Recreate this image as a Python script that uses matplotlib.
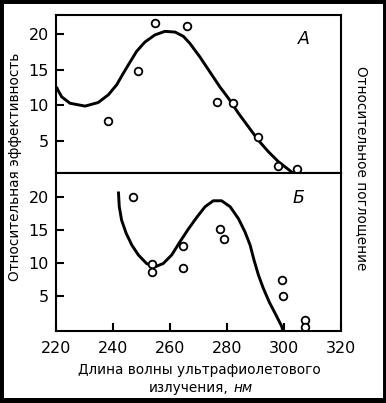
import matplotlib
matplotlib.use("Agg")
import matplotlib.pyplot as plt
from matplotlib.patches import Rectangle

plt.rcParams['font.family'] = ['DejaVu Sans']

# panel A: measured points and drawn curve
a_wl = [238.4, 248.7, 254.9, 265.9, 276.6, 282.2, 291.0, 297.8, 304.4]
a_eff = [7.8, 14.8, 21.6, 21.1, 10.5, 10.4, 5.5, 1.5, 1.05]
a_curve_wl = [220.2, 220.6, 222.0, 224.9, 230.2, 234.8, 238.4, 241.3, 243.6,
              246.0, 248.3, 251.2, 254.7, 258.2, 261.8, 264.7, 267.0, 270.5,
              274.0, 277.5, 280.5, 284.0, 287.5, 291.0, 294.5, 298.0, 300.9,
              303.3]
a_curve_abs = [12.6, 12.2, 11.2, 10.3, 9.9, 10.4, 11.5, 12.9, 14.5,
               16.1, 17.6, 18.9, 19.9, 20.4, 20.3, 19.7, 18.7, 16.8,
               14.7, 12.6, 11.0, 8.9, 7.0, 5.1, 3.5, 2.1, 1.2,
               0.45]

# panel B
b_wl = [247.1, 253.6, 253.6, 264.7, 264.7, 277.5, 278.9, 299.2, 299.8, 307.4, 307.4]
b_eff = [20.0, 9.9, 8.7, 12.6, 9.3, 15.1, 13.6, 7.4, 5.0, 1.3, 0.3]
b_curve_wl = [241.9, 242.2, 243.0, 244.6, 246.6, 248.9, 251.8, 254.7, 257.6,
              260.6, 263.5, 266.4, 269.4, 272.3, 275.2, 278.1, 281.1, 284.0,
              286.3, 288.1, 289.5, 291.0, 292.7, 294.8, 297.2, 299.2, 299.6]
b_curve_abs = [20.8, 18.5, 16.5, 14.5, 12.7, 11.2, 9.9, 9.4, 9.9,
               11.2, 13.2, 15.1, 16.9, 18.5, 19.4, 19.4, 18.5, 16.7,
               14.7, 12.7, 10.4, 8.2, 6.2, 4.1, 2.1, 0.4, -0.3]

x_ticks = [220, 240, 260, 280, 300, 320]
y_ticks = [5, 10, 15, 20]

W, H = 386, 403
fig = plt.figure(figsize=(W / 100, H / 100), dpi=100)
fig.patch.set_facecolor('white')

def fx(px):
    return px / W

def fy(py):
    return 1 - py / H

left, right = 56, 341
ax_a = fig.add_axes([fx(left), fy(173), fx(right - left), (173 - 15) / H])
ax_b = fig.add_axes([fx(left), fy(331), fx(right - left), (331 - 173) / H])

for ax in (ax_a, ax_b):
    for s in ax.spines.values():
        s.set_linewidth(1.5)
    ax.set_xlim(220, 320)
    ax.set_yticks(y_ticks)
    ax.tick_params(axis='y', direction='in', length=6, width=1.5, pad=5,
                   labelsize=11.5)

ax_a.set_ylim(0.5, 22.7)
ax_b.set_ylim(-0.3, 23.6)

ax_a.plot(a_curve_wl, a_curve_abs, color='black', lw=2.1,
          solid_joinstyle='round', solid_capstyle='butt')
ax_a.plot(a_wl, a_eff, 'o', ms=5.5, mfc='white', mec='black', mew=1.3)
ax_a.set_xticks([])
ax_a.text(307, 19.3, 'А', style='italic', fontsize=12.5, ha='center', va='center')

ax_b.plot(b_curve_wl, b_curve_abs, color='black', lw=2.1,
          solid_joinstyle='round', solid_capstyle='butt')
ax_b.plot(b_wl, b_eff, 'o', ms=5.5, mfc='white', mec='black', mew=1.3)
ax_b.set_xticks(x_ticks)
ax_b.tick_params(axis='x', direction='in', length=6, width=1.5, pad=7,
                 labelsize=11.5)
ax_b.text(305, 19.8, 'Б', style='italic', fontsize=12.5, ha='center', va='center')

fs = 9.8
fig.text(fx(15), fy(167), 'Относительная эффективность', rotation=90,
         ha='center', va='center', fontsize=fs)
fig.text(fx(362), fy(168), 'Относительное поглощение', rotation=-90,
         ha='center', va='center', fontsize=fs)
fig.text(fx(199), fy(370), 'Длина волны ультрафиолетового',
         ha='center', va='center', fontsize=fs)
fig.text(fx(229), fy(388), 'излучения,', ha='right', va='center', fontsize=fs)
fig.text(fx(233), fy(388), 'нм', ha='left', va='center', fontsize=fs,
         style='italic')

# scan frame
fig.add_artist(Rectangle((0, 0), 1, 1, transform=fig.transFigure, fill=False,
                         lw=5, ec='black'))
fig.add_artist(Rectangle((0, 0), 1, 5 / H, transform=fig.transFigure,
                         color='black', lw=0))

fig.savefig('out.png', dpi=100)
